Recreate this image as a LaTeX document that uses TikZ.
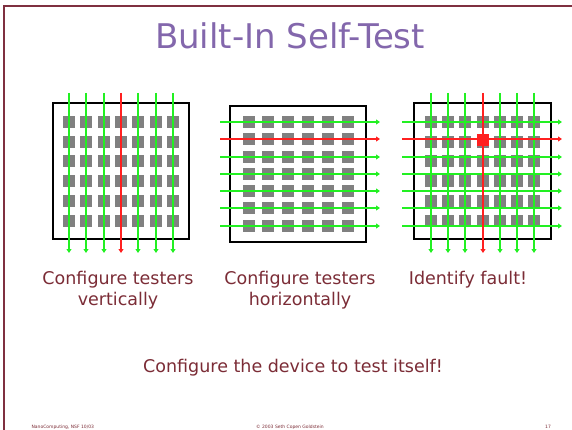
\documentclass[tikz,border=0pt]{standalone}
\usepackage{fontspec}
\setmainfont{DejaVu Sans}
\usetikzlibrary{arrows.meta}
\definecolor{cTitle}{HTML}{8367AC}
\definecolor{cText}{HTML}{7B2C36}
\definecolor{cFrame}{HTML}{7F3040}
\definecolor{cGreen}{HTML}{22F022}
\definecolor{cRed}{HTML}{FF2020}
\definecolor{cCell}{HTML}{808080}

\tikzset{
  cell/.style={fill=cCell, minimum size=12pt, inner sep=0pt, draw=none},
  chip/.style={draw=black, line width=1.5pt},
  tester/.style={-{Triangle[length=4pt,width=5pt]}, line width=2pt, cGreen},
  faulty/.style={tester, cRed},
  caption/.style={cText, align=center, font=\fontsize{17.5}{21}\selectfont, anchor=north},
  foot/.style={cText, font=\fontsize{4.5}{5}\selectfont, anchor=base}
}

\begin{document}
\begin{tikzpicture}[x=1pt,y=-1pt]
\useasboundingbox (0,0) rectangle (572,430);
%slide frame
\draw[cFrame, line width=2pt] (4,430) -- (4,6) -- (572,6);
\node[cTitle, font=\fontsize{34}{36}\selectfont] (title) at (290,36) {Built-In Self-Test};

%vertical testers
\draw[chip] (53,103) rectangle (189,239);
\foreach \x in {69,86,104,121,138,156,173}
  \foreach \y in {122,142,161,181,201,221}
    \node[cell] (vA-\x-\y) at (\x,\y) {};
\foreach \x in {69,86,104,121,138,156,173}{
  \coordinate (vAtop\x) at (\x,93);
  \coordinate (vAbot\x) at (\x,253);
  \ifnum\x=121 \draw[faulty] (vAtop\x) -- (vAbot\x);
  \else \draw[tester] (vAtop\x) -- (vAbot\x); \fi
}

%horizontal testers
\draw[chip] (230,106) rectangle (366,242);
\foreach \x in {249,268,288,308,328,348}
  \foreach \y in {122,139,157,174,191,208,226}
    \node[cell] (hB-\x-\y) at (\x,\y) {};
\foreach \y in {122,139,157,174,191,208,226}{
  \coordinate (hBin\y) at (220,\y);
  \coordinate (hBout\y) at (380,\y);
  \ifnum\y=139 \draw[faulty] (hBin\y) -- (hBout\y);
  \else \draw[tester] (hBin\y) -- (hBout\y); \fi
}

%both directions, fault found
\draw[chip] (414,103) rectangle (551,239);
\foreach \x in {431,448,465,483,500,517,534}
  \foreach \y in {122,142,161,181,201,221}
    \node[cell] (fC-\x-\y) at (\x,\y) {};
\foreach \y in {122,139,157,174,191,208,226}{
  \coordinate (fCin\y) at (402,\y);
  \coordinate (fCout\y) at (562,\y);
  \ifnum\y=139 \else \draw[tester] (fCin\y) -- (fCout\y); \fi
}
\foreach \x in {431,448,465,483,500,517,534}{
  \coordinate (fCtop\x) at (\x,93);
  \coordinate (fCbot\x) at (\x,253);
  \ifnum\x=483 \else \draw[tester] (fCtop\x) -- (fCbot\x); \fi
}
\draw[faulty] (fCin139) -- (fCout139);
\draw[faulty] (fCtop483) -- (fCbot483);
\node[cell, fill=cRed] (fault) at (483,140) {};

%captions
\node[caption] (capA) at (118,268) {Configure testers\\vertically};
\node[caption] (capB) at (300,268) {Configure testers\\horizontally};
\node[caption] (capC) at (468,268) {Identify fault!};
\node[caption] (capD) at (293,356) {Configure the device to test itself!};

%footer
\node[foot, anchor=base west] (ftL) at (28,428) {NanoComputing, NSF 10/03};
\node[foot] (ftM) at (290,428) {© 2003 Seth Copen Goldstein};
\node[foot] (ftR) at (548,428) {17};
\end{tikzpicture}
\end{document}
